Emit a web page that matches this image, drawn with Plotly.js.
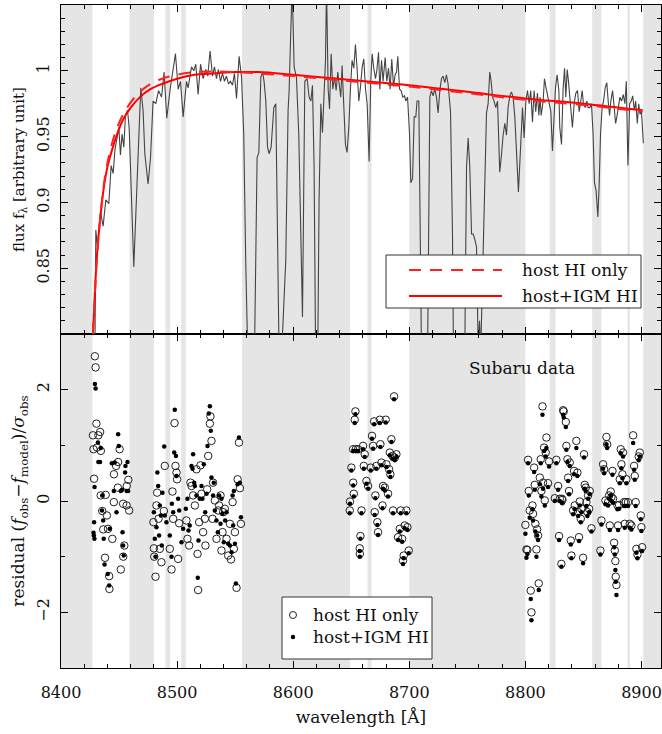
<!DOCTYPE html>
<html>
<head>
<meta charset="utf-8">
<script src="https://cdn.plot.ly/plotly-3.0.1.min.js"></script>
<style>html,body{margin:0;padding:0;background:#fff;}#chart{width:662px;height:734px;}</style>
</head>
<body>
<div id="chart"></div>
<script>
// ---------- data ----------
const maskStart = [8400, 8459, 8490, 8503.5, 8556, 8664, 8700, 8821, 8857.5, 8888, 8901.5];
const maskEnd   = [8427, 8480, 8494, 8507.5, 8649, 8667.5, 8800, 8826, 8865.5, 8890, 8917];

const specWave = [8429.0,8430.0,8431.4,8434.0,8436.3,8438.6,8441.2,8443.2,8444.9,8446.6,8448.3,8449.8,8451.2,8452.6,8454.1,8455.5,8457.3,8458.7,8460.1,8462.7,8465.6,8467.0,8468.7,8470.7,8472.2,8475.0,8477.1,8479.3,8481.7,8484.0,8486.6,8488.8,8491.1,8494.0,8496.3,8498.6,8500.9,8502.9,8505.2,8508.1,8509.5,8512.4,8514.4,8516.1,8518.1,8520.2,8522.4,8524.7,8526.4,8528.4,8530.5,8532.2,8533.9,8535.6,8537.4,8539.1,8540.8,8542.5,8544.3,8546.0,8547.7,8549.4,8551.2,8553.4,8555.5,8557.4,8559.2,8560.6,8563.0,8565.5,8566.9,8568.9,8570.4,8572.1,8573.6,8574.9,8576.4,8577.9,8579.2,8581.0,8583.3,8585.0,8586.5,8588.5,8590.8,8593.6,8595.6,8596.5,8597.6,8599.1,8600.8,8602.8,8604.8,8606.6,8608.0,8610.0,8612.0,8613.7,8615.2,8616.6,8618.0,8619.5,8620.9,8622.3,8623.8,8625.2,8626.6,8627.8,8628.7,8630.1,8631.3,8632.7,8634.1,8635.6,8637.0,8638.4,8639.9,8641.0,8642.1,8643.6,8645.0,8646.4,8647.9,8649.3,8650.7,8652.2,8653.6,8655.0,8656.5,8658.0,8659.3,8660.8,8662.3,8663.7,8665.4,8666.8,8668.0,8669.4,8670.9,8672.0,8673.5,8674.6,8676.1,8677.4,8679.2,8680.6,8682.1,8683.5,8684.9,8686.4,8687.8,8689.0,8690.1,8691.6,8692.9,8694.4,8695.9,8697.0,8698.5,8700.2,8701.3,8702.8,8704.2,8705.6,8706.7,8708.2,8709.6,8710.8,8713.0,8715.5,8717.7,8719.1,8720.5,8722.0,8723.4,8724.8,8726.3,8727.7,8729.1,8730.6,8732.0,8733.4,8735.5,8737.2,8738.3,8743.0,8747.5,8749.3,8750.7,8752.1,8753.6,8755.0,8756.4,8757.9,8759.3,8760.5,8761.5,8763.6,8765.0,8766.5,8767.9,8769.3,8770.5,8771.7,8773.0,8774.5,8776.0,8777.9,8779.4,8780.8,8782.3,8783.7,8785.1,8786.6,8788.0,8789.4,8790.9,8792.3,8794.0,8795.8,8797.5,8798.9,8800.4,8801.8,8803.2,8804.6,8806.1,8807.5,8808.9,8810.4,8811.6,8812.6,8813.6,8815.3,8816.4,8817.6,8818.7,8820.4,8821.9,8823.3,8824.8,8825.9,8827.3,8828.8,8829.6,8831.1,8832.5,8833.7,8834.8,8836.0,8837.1,8838.2,8839.4,8840.5,8842.0,8843.4,8844.9,8846.3,8847.4,8848.9,8850.0,8851.5,8852.9,8854.0,8855.5,8856.9,8858.3,8859.5,8860.9,8862.4,8863.5,8864.7,8866.1,8867.3,8868.7,8870.1,8871.3,8872.5,8873.6,8875.1,8876.5,8877.7,8878.8,8880.3,8881.4,8882.9,8884.3,8885.7,8886.9,8888.3,8889.8,8891.2,8892.4,8893.8,8895.0,8896.4,8897.6,8898.7,8899.9,8901.6];
const specFlux = [0.760,0.879,0.866,0.893,0.882,0.902,0.899,0.928,0.922,0.941,0.949,0.957,0.936,0.952,0.942,0.966,0.970,0.957,0.920,0.851,0.917,0.947,0.987,0.970,0.937,0.914,0.934,0.977,0.975,0.985,0.980,0.999,0.964,0.986,0.998,1.013,0.986,0.992,0.965,0.992,0.987,1.003,1.000,1.005,0.982,1.005,0.994,1.001,0.996,1.015,0.996,1.003,0.994,1.001,0.992,0.998,0.992,0.996,0.990,0.992,0.989,0.998,0.979,1.011,0.995,0.952,0.851,0.760,0.700,0.740,0.800,0.934,0.938,0.995,0.999,0.992,0.977,0.942,0.937,0.942,0.972,0.975,0.876,0.740,0.800,0.856,0.970,0.985,1.020,1.065,1.003,0.995,0.952,0.876,0.813,0.992,0.994,0.980,0.977,0.989,0.927,0.760,0.760,0.902,0.975,0.953,0.977,1.008,1.065,0.986,0.971,1.013,0.986,0.995,0.985,0.999,0.988,0.980,1.004,0.977,0.944,0.938,0.957,0.986,1.008,1.002,1.020,1.002,0.977,0.988,1.002,1.009,0.986,0.975,0.931,0.992,1.013,1.002,0.994,1.000,1.014,0.986,1.008,0.992,1.010,0.992,1.002,0.986,1.009,0.988,0.997,0.999,1.011,0.986,0.985,0.980,0.981,0.977,0.980,0.952,0.915,0.918,0.965,0.965,0.977,0.977,0.876,0.760,0.700,0.760,0.980,0.985,0.981,0.986,0.980,0.968,0.985,0.994,0.996,0.991,0.997,0.990,0.969,0.876,0.760,0.700,0.760,0.927,0.949,0.927,0.876,0.876,0.872,0.866,0.790,0.810,0.785,0.870,0.924,0.968,0.975,0.999,0.992,0.980,0.977,0.972,0.977,0.923,0.936,0.951,0.960,0.951,0.972,0.981,0.984,0.980,0.965,0.934,0.908,0.941,0.972,0.949,0.977,0.985,0.975,0.985,0.961,0.985,0.969,0.983,0.966,0.980,0.966,0.977,0.994,0.988,0.983,0.977,0.969,0.939,0.966,0.987,0.997,0.985,0.957,0.944,0.987,1.002,0.980,1.001,0.992,0.982,0.972,0.957,0.975,0.983,0.985,0.969,0.975,0.985,0.975,0.972,0.977,0.972,0.972,0.975,0.952,0.915,0.909,0.889,0.912,0.952,0.972,0.977,0.987,0.991,0.977,0.966,0.977,0.985,0.972,0.960,0.965,0.972,0.980,0.977,0.982,0.975,0.992,0.928,0.975,0.977,0.981,0.970,0.977,0.960,0.975,0.967,0.970,0.945];

const modelWave     = [8427.5,8429,8431,8434,8437,8440,8444,8448,8453,8460,8468,8477,8487,8500,8515,8530,8550,8570,8600,8650,8700,8750,8800,8850,8901];
const modelHostOnly = [0.800,0.826,0.858,0.890,0.914,0.930,0.945,0.956,0.966,0.976,0.984,0.990,0.994,0.997,0.999,0.9995,0.999,0.998,0.996,0.992,0.988,0.983,0.978,0.974,0.969];
const modelHostIGM  = [0.800,0.828,0.860,0.890,0.912,0.927,0.940,0.951,0.962,0.972,0.980,0.986,0.990,0.994,0.997,0.998,0.999,0.999,0.997,0.993,0.989,0.984,0.979,0.975,0.970];

const resHostWave = [8427.5,8428.0,8428.5,8429.2,8429.8,8430.5,8431.0,8432.2,8433.7,8434.2,8434.3,8435.5,8436.4,8437.9,8438.5,8439.5,8440.5,8441.5,8441.7,8444.2,8445.5,8445.6,8447.5,8449.0,8449.2,8450.5,8451.5,8453.5,8453.6,8454.5,8456.5,8456.6,8458.0,8458.7,
 8479.6,8480.0,8480.3,8481.4,8482.2,8482.8,8484.0,8485.1,8486.5,8488.6,8489.4,8493.7,8495.2,8496.0,8496.6,8497.8,8498.6,8499.5,8500.0,8500.9,8501.8,8508.0,8508.9,8510.4,8511.5,8512.4,8513.8,8515.3,8516.7,8517.6,8518.1,8519.0,8520.1,8521.0,8522.4,8523.9,8524.4,8525.9,8526.8,8528.2,8528.7,8529.6,8530.5,8531.0,8532.5,8533.9,8535.4,8536.2,8537.4,8538.2,8539.1,8539.7,8541.1,8542.6,8544.0,8545.5,8546.4,8547.8,8548.9,8549.8,8551.2,8552.1,8553.3,8554.1,8555.0,
 8648.7,8648.9,8650.1,8651.6,8651.7,8652.2,8653.0,8653.6,8653.9,8655.9,8657.3,8657.4,8657.9,8658.8,8660.2,8660.8,8661.6,8663.1,8664.5,8666.8,8667.9,8668.8,8669.7,8670.2,8670.8,8671.7,8672.5,8673.1,8674.6,8675.1,8676.0,8676.9,8677.4,8678.9,8679.7,8680.3,8681.7,8682.6,8683.2,8683.7,8684.6,8685.5,8686.0,8686.9,8687.5,8688.9,8690.3,8691.8,8692.6,8693.8,8694.6,8695.2,8696.1,8697.5,8698.4,8699.5,
 8800.0,8800.9,8801.7,8802.3,8802.9,8803.7,8804.6,8805.2,8806.1,8806.6,8807.5,8808.1,8808.6,8809.5,8810.1,8810.9,8811.5,8812.4,8813.2,8813.8,8814.7,8815.2,8816.1,8816.7,8817.5,8818.1,8819.5,8820.4,8825.3,8826.7,8828.2,8829.0,8829.6,8831.0,8831.4,8831.9,8832.5,8833.0,8834.8,8835.3,8836.2,8836.8,8837.6,8838.2,8839.1,8839.6,8841.1,8841.9,8842.5,8843.9,8844.8,8845.4,8846.2,8846.8,8847.7,8848.3,8849.7,8850.5,8851.1,8852.0,8852.6,8853.4,8854.0,8854.9,8855.4,8856.9,8864.6,8865.5,8866.9,8867.8,8869.0,8869.8,8870.4,8871.2,8872.1,8872.7,8873.5,8874.1,8875.0,8875.5,8876.4,8877.0,8877.5,8877.8,8878.4,8879.3,8879.8,8880.7,8881.3,8882.1,8882.7,8883.6,8884.1,8885.0,8885.6,8886.4,8887.0,8888.4,8889.9,8891.3,8892.8,8893.6,8894.2,8895.0,8895.6,8896.5,8897.6,8898.5,8899.4,8899.9,8900.5];
const resHostOnly = [1.18,0.93,0.40,2.60,2.40,1.39,0.96,1.18,1.24,0.10,0.90,-0.18,-0.51,-1.02,0.11,-0.26,-0.50,-1.35,-1.58,-0.68,-0.02,0.48,0.63,0.24,0.70,0.93,-1.23,-0.05,-1.00,-0.80,-0.08,0.27,0.38,-0.17,
 -0.38,-0.85,-1.00,-1.36,-0.08,0.15,-0.32,-0.86,-1.10,-0.18,0.63,-0.86,-1.23,0.17,-0.32,1.40,0.63,0.51,0.39,-1.04,-0.40,-0.35,-0.68,-0.80,0.33,0.27,0.10,-0.08,0.57,-0.95,-1.60,-0.38,0.64,0.13,-0.56,-0.32,-0.80,0.21,0.81,1.39,1.52,1.08,-0.32,0.33,0.01,-0.68,-0.17,-0.08,0.10,-0.89,-0.56,-0.20,-0.14,-0.68,-0.98,-0.41,-1.05,-0.02,-0.86,-0.56,-1.56,0.39,1.05,0.23,-0.41,
 -0.17,-0.01,0.60,0.93,0.33,0.13,1.46,1.61,0.93,0.93,-0.85,-0.95,-0.63,-0.17,0.99,0.63,0.84,0.36,0.27,0.60,1.17,0.99,1.43,-0.20,0.10,0.63,-0.38,-0.56,1.46,1.02,0.69,-0.08,0.27,0.24,1.46,0.66,0.13,0.57,0.87,0.48,1.11,0.81,-0.17,1.88,0.78,0.84,-0.65,-0.50,-0.17,-0.68,-1.07,-0.98,-0.44,-0.17,-0.47,-0.89,
 -0.43,-0.87,-0.88,0.74,0.18,-0.17,-1.61,-2.00,-0.08,-0.23,0.60,0.29,-0.41,-0.87,-0.51,-0.62,-1.48,0.42,0.75,0.18,1.70,0.33,0.96,0.01,0.87,1.14,0.32,0.71,0.05,0.74,0.27,-0.63,0.04,-1.13,0.04,0.02,1.63,1.61,1.42,0.99,0.75,0.42,0.18,0.69,-0.71,-0.98,-0.17,0.54,-0.08,1.08,0.51,-0.20,-0.65,-0.01,-0.32,-0.14,-1.02,0.84,0.29,0.24,-0.02,-0.20,0.10,-0.14,0.18,-0.49,-0.89,-0.35,0.66,0.57,0.01,1.15,1.02,-0.02,0.10,-0.44,0.17,0.07,0.54,0.04,-0.75,-0.89,-1.08,-1.36,-1.51,-0.08,-0.44,-0.07,0.39,0.93,0.66,0.48,0.87,-0.02,-0.41,-0.02,0.39,-0.02,-0.41,-0.44,1.18,0.63,0.45,-0.02,-0.86,-0.96,0.80,0.87,-0.26,-0.47,-0.83];

const resIGMWave = [8428.0,8428.3,8428.5,8428.8,8428.9,8429.2,8429.8,8431.8,8432.2,8433.6,8434.3,8435.3,8435.5,8436.3,8436.8,8437.5,8440.3,8441.5,8442.0,8443.8,8445.5,8446.3,8447.8,8449.2,8449.8,8451.5,8452.6,8453.0,8453.5,8454.0,8455.2,8455.5,8456.5,8457.3,8457.8,
 8480.0,8480.8,8481.4,8482.2,8483.0,8483.7,8484.5,8485.1,8486.0,8486.8,8487.4,8488.9,8489.4,8490.8,8493.7,8495.2,8495.5,8496.6,8497.5,8498.0,8499.0,8499.5,8500.9,8501.8,8503.8,8505.2,8507.5,8508.9,8509.8,8510.9,8512.4,8513.3,8513.8,8514.7,8515.3,8516.7,8517.8,8518.4,8519.5,8521.0,8521.8,8523.0,8524.2,8525.4,8526.2,8527.3,8528.2,8529.0,8529.6,8531.0,8531.6,8532.5,8533.9,8535.1,8536.2,8537.4,8538.2,8539.1,8540.2,8541.4,8542.6,8544.0,8545.5,8546.9,8547.8,8548.3,8548.9,8549.8,8550.6,8552.1,8553.3,8554.1,8555.0,
 8648.7,8648.9,8650.1,8651.6,8651.7,8652.2,8653.0,8653.6,8653.9,8655.9,8657.3,8657.4,8657.9,8658.8,8660.2,8660.8,8661.6,8663.1,8664.5,8666.8,8667.9,8668.8,8669.7,8670.2,8670.8,8671.7,8672.5,8673.1,8674.6,8675.1,8676.0,8676.9,8677.4,8678.9,8679.7,8680.3,8681.7,8682.6,8683.2,8683.7,8684.6,8685.5,8686.0,8686.9,8687.5,8688.9,8690.3,8691.8,8692.6,8693.8,8694.6,8695.2,8696.1,8697.5,8698.4,8699.5,
 8800.0,8800.9,8801.7,8802.3,8802.9,8803.7,8804.6,8805.2,8806.1,8806.6,8807.5,8808.1,8808.6,8809.5,8810.1,8810.9,8811.5,8812.4,8813.2,8813.8,8814.7,8815.2,8816.1,8816.7,8817.5,8818.1,8819.5,8820.4,8825.3,8826.7,8828.2,8829.0,8829.6,8831.0,8831.4,8831.9,8832.5,8833.0,8834.8,8835.3,8836.2,8836.8,8837.6,8838.2,8839.1,8839.6,8841.1,8841.9,8842.5,8843.9,8844.8,8845.4,8846.2,8846.8,8847.7,8848.3,8849.7,8850.5,8851.1,8852.0,8852.6,8853.4,8854.0,8854.9,8855.4,8856.9,8864.6,8865.5,8866.9,8867.8,8869.0,8869.8,8870.4,8871.2,8872.1,8872.7,8873.5,8874.1,8875.0,8875.5,8876.4,8877.0,8877.5,8877.8,8878.4,8879.3,8879.8,8880.7,8881.3,8882.1,8882.7,8883.6,8884.1,8885.0,8885.6,8886.4,8887.0,8888.4,8889.9,8891.3,8892.8,8893.6,8894.2,8895.0,8895.6,8896.5,8897.6,8898.5,8899.4,8899.9,8900.5];
const resHostIGM = [-0.57,-0.62,-0.38,-0.68,0.25,2.10,2.02,1.05,0.70,0.70,0.95,-0.17,0.10,-0.35,-0.68,-1.14,-1.31,-1.52,-0.50,0.68,0.18,0.69,-0.20,1.20,0.99,0.18,0.20,-0.56,-0.80,-0.98,0.51,0.63,0.18,0.70,0.18,
 -0.20,-0.68,-1.00,-0.47,0.51,0.27,-0.62,-0.08,-0.26,-0.80,0.15,0.98,-0.26,-0.38,-0.62,-1.00,-0.05,-0.20,0.87,1.64,0.81,0.45,0.04,-0.17,-0.74,-0.50,-0.14,0.04,-0.53,-0.44,0.63,0.58,0.84,0.33,0.27,0.10,-1.38,-0.71,0.04,0.27,0.04,0.66,-0.20,0.13,0.99,1.57,1.70,1.26,0.42,0.10,0.33,-0.17,-0.35,-0.56,0.10,-0.41,0.04,-0.23,-0.74,-0.35,-0.20,-0.77,-0.80,-0.92,0.10,-0.44,0.18,-0.77,-1.48,0.30,1.14,0.33,-0.29,
 -0.22,-0.05,0.55,0.90,0.28,0.08,1.40,1.56,0.90,0.90,-0.90,-1.00,-0.68,-0.22,0.93,0.58,0.79,0.31,0.22,0.55,1.12,0.94,1.38,-0.25,0.05,0.58,-0.43,-0.61,1.40,0.97,0.64,-0.13,0.22,0.19,1.41,0.61,0.08,0.52,0.82,0.43,1.06,0.76,-0.22,1.83,0.73,0.79,-0.70,-0.55,-0.22,-0.73,-1.13,-1.03,-0.49,-0.22,-0.52,-0.94,
 -0.59,-1.02,-0.95,0.68,0.10,-0.30,-1.76,-2.14,-0.15,-0.35,0.52,0.20,-0.55,-1.00,-0.62,-0.70,-1.60,0.30,0.68,0.08,1.55,0.22,0.90,-0.08,0.80,0.95,0.25,0.62,0.00,0.68,0.20,-0.70,0.00,-1.18,-0.03,-0.04,1.55,1.50,1.33,0.92,0.70,0.36,0.12,0.63,-0.78,-1.03,-0.24,0.48,-0.15,0.95,0.45,-0.27,-0.72,-0.08,-0.38,-0.20,-1.12,0.78,0.22,0.18,-0.09,-0.27,0.04,-0.20,0.12,-0.55,-0.96,-0.42,0.58,0.50,-0.06,1.02,0.95,-0.08,0.04,-0.52,0.10,0.00,0.47,-0.03,-0.83,-0.96,-1.24,-1.45,-1.69,-0.15,-0.52,-0.14,0.32,0.86,0.59,0.41,0.80,-0.09,-0.48,-0.09,0.32,-0.09,-0.48,-0.51,1.04,0.56,0.38,-0.09,-0.93,-1.03,0.73,0.80,-0.33,-0.54,-0.90];

const yTickTop = [0.85, 0.9, 0.95, 1];
const yTickTopText = ['0.85', '0.9', '0.95', '1'];
const yTickBot = [-2, 0, 2];
const yTickBotText = ['\u22122', '0', '2'];

// ---------- layout helpers ----------
const ML = 61, MR = 1, MT = 5, MB = 66, W = 662, H = 734;
const PW = W - ML - MR, PH = H - MT - MB;
const px = x => (x - ML) / PW;
const py = y => (H - MB - y) / PH;
const FONT = 'DejaVu Serif';
const TXT = '#111';
const splitY = py(334);

const traces = [
  {x: specWave, y: specFlux, xaxis: 'x2', yaxis: 'y2', type: 'scatter', mode: 'lines',
   line: {color: '#444', width: 1.1}, showlegend: false, hoverinfo: 'skip'},
  {x: modelWave, y: modelHostIGM, xaxis: 'x2', yaxis: 'y2', type: 'scatter', mode: 'lines',
   line: {color: '#ff0000', width: 2, shape: 'spline'}, name: 'host+IGM HI', showlegend: false},
  {x: modelWave, y: modelHostOnly, xaxis: 'x2', yaxis: 'y2', type: 'scatter', mode: 'lines',
   line: {color: '#ff2020', width: 2, dash: '12px,9px', shape: 'spline'}, name: 'host HI only', showlegend: false},
  {x: resHostWave, y: resHostOnly, xaxis: 'x', yaxis: 'y', type: 'scatter', mode: 'markers',
   marker: {symbol: 'circle-open', size: 7.5, color: '#222', line: {width: 1, color: '#222'}}, name: 'host HI only', showlegend: false},
  {x: resIGMWave, y: resHostIGM, xaxis: 'x', yaxis: 'y', type: 'scatter', mode: 'markers',
   marker: {symbol: 'circle', size: 4.5, color: '#000'}, name: 'host+IGM HI', showlegend: false}
];

const shapes = [];
for (let i = 0; i < maskStart.length; i++) {
  shapes.push({type: 'rect', xref: 'x', yref: 'paper', x0: maskStart[i], x1: maskEnd[i], y0: 0, y1: 1,
    fillcolor: '#e5e5e5', line: {width: 0}, layer: 'below'});
}
// top legend
shapes.push({type: 'rect', xref: 'paper', yref: 'paper', x0: px(386), x1: px(641), y0: py(308), y1: py(255),
  fillcolor: '#fff', line: {color: '#333', width: 1}, layer: 'above'});
shapes.push({type: 'line', xref: 'paper', yref: 'paper', x0: px(409), x1: px(502), y0: py(270), y1: py(270),
  line: {color: '#ff2020', width: 2, dash: '12px,9px'}, layer: 'above'});
shapes.push({type: 'line', xref: 'paper', yref: 'paper', x0: px(409), x1: px(502), y0: py(296), y1: py(296),
  line: {color: '#ff0000', width: 2}, layer: 'above'});
// bottom legend
shapes.push({type: 'rect', xref: 'paper', yref: 'paper', x0: px(282), x1: px(432), y0: py(659), y1: py(597),
  fillcolor: '#fff', line: {color: '#333', width: 1}, layer: 'above'});
shapes.push({type: 'circle', xref: 'paper', yref: 'paper', xsizemode: 'pixel', ysizemode: 'pixel',
  xanchor: px(293), yanchor: py(615), x0: -3.5, x1: 3.5, y0: -3.5, y1: 3.5,
  fillcolor: 'rgba(0,0,0,0)', line: {color: '#222', width: 1}, layer: 'above'});
shapes.push({type: 'circle', xref: 'paper', yref: 'paper', xsizemode: 'pixel', ysizemode: 'pixel',
  xanchor: px(293), yanchor: py(637), x0: -2.2, x1: 2.2, y0: -2.2, y1: 2.2,
  fillcolor: '#000', line: {color: '#000', width: 0}, layer: 'above'});

const legFont = {family: FONT, size: 17, color: TXT};
const annotations = [
  {xref: 'paper', yref: 'paper', x: px(520), y: py(270), text: 'host HI only', showarrow: false, xanchor: 'left', yanchor: 'middle', font: legFont},
  {xref: 'paper', yref: 'paper', x: px(520), y: py(296), text: 'host+IGM HI', showarrow: false, xanchor: 'left', yanchor: 'middle', font: legFont},
  {xref: 'paper', yref: 'paper', x: px(311), y: py(615), text: 'host HI only', showarrow: false, xanchor: 'left', yanchor: 'middle', font: legFont},
  {xref: 'paper', yref: 'paper', x: px(311), y: py(637), text: 'host+IGM HI', showarrow: false, xanchor: 'left', yanchor: 'middle', font: legFont},
  {xref: 'paper', yref: 'paper', x: px(522), y: py(368), text: 'Subaru data', showarrow: false, xanchor: 'center', yanchor: 'middle', font: legFont}
];

const axCommon = {
  showline: true, linecolor: '#000', linewidth: 1.2, mirror: 'allticks',
  ticks: 'inside', ticklen: 7, tickcolor: '#000', tickwidth: 1,
  showgrid: false, zeroline: false,
  tickfont: {family: FONT, size: 16, color: TXT}
};

const layout = {
  width: W, height: H,
  margin: {l: ML, r: MR, t: MT, b: MB, pad: 0},
  paper_bgcolor: '#fff', plot_bgcolor: '#fff',
  showlegend: false,
  xaxis: Object.assign({}, axCommon, {
    domain: [0, 1], anchor: 'y', range: [8400, 8400 + PW / 1.161],
    tickmode: 'linear', tick0: 8400, dtick: 100,
    minor: {tickmode: 'linear', tick0: 8400, dtick: 20, ticklen: 4, ticks: 'inside', tickcolor: '#000'},
    ticklabelstandoff: 10,
    title: {text: 'wavelength [Å]', font: {family: FONT, size: 17, color: TXT}, standoff: 9}
  }),
  yaxis: Object.assign({}, axCommon, {
    domain: [0, splitY], anchor: 'x', range: [-3, 3],
    tickmode: 'array', tickvals: yTickBot, ticktext: yTickBotText, tickangle: -90,
    minor: {tickmode: 'linear', tick0: -3, dtick: 1, ticklen: 4, ticks: 'inside', tickcolor: '#000'},
    ticklabelstandoff: 4,
    title: {text: 'residual (<i>f</i><sub>obs</sub>\u2212<i>f</i><sub>model</sub>)/<i>\u03c3</i><sub>obs</sub>', font: {family: FONT, size: 17, color: TXT}, standoff: 5}
  }),
  xaxis2: Object.assign({}, axCommon, {
    domain: [0, 1], anchor: 'y2', matches: 'x', range: [8400, 8400 + PW / 1.161],
    tickmode: 'linear', tick0: 8400, dtick: 100, showticklabels: false,
    minor: {tickmode: 'linear', tick0: 8400, dtick: 20, ticklen: 4, ticks: 'inside', tickcolor: '#000'}
  }),
  yaxis2: Object.assign({}, axCommon, {
    domain: [splitY, 1], anchor: 'x2', range: [0.8, 1.05],
    tickmode: 'array', tickvals: yTickTop, ticktext: yTickTopText, tickangle: -90,
    minor: {tickmode: 'linear', tick0: 0.8, dtick: 0.01, ticklen: 4, ticks: 'inside', tickcolor: '#000'},
    ticklabelstandoff: 4,
    title: {text: 'flux f<sub>\u03bb</sub> [arbitrary unit]', font: {family: FONT, size: 15, color: TXT}, standoff: 6}
  }),
  shapes: shapes,
  annotations: annotations
};

Plotly.newPlot('chart', traces, layout, {staticPlot: true, displayModeBar: false});
</script>
</body>
</html>
